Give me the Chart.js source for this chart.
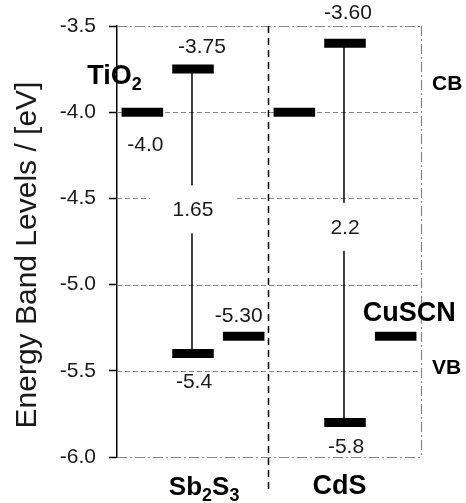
<!DOCTYPE html>
<html>
<head>
<meta charset="utf-8">
<script src="https://cdn.jsdelivr.net/npm/chart.js@4.4.0/dist/chart.umd.min.js"></script>
<style>
  html, body { margin: 0; padding: 0; background: #fff; }
</style>
</head>
<body>
<canvas id="bandas" width="466" height="503"></canvas>
<script>
// valores (eV)
var panels = ['Sb2S3', 'CdS']
var tio2CB = [-4.0, -4.0]
var absorberCB = [-3.75, -3.60]
var absorberVB = [-5.4, -5.8]
var cuscnVB = [-5.30, -5.30]
var gapText = ['1.65', '2.2']
var cbText = ['-3.75', '-3.60']
var vbText = ['-5.4', '-5.8']
var tio2Text = ['-4.0', '']
var cuscnText = ['-5.30', '']
var yTicks = [-6.0, -5.5, -5.0, -4.5, -4.0, -3.5]

var FONT = "'Liberation Sans', Arial, sans-serif"
var HALF = 0.41 // meia largura de cada barra (unidades do eixo x)

function level(x, y) {
  return {
    data: [{ x: x - HALF, y: y }, { x: x + HALF, y: y }],
    borderColor: '#000',
    borderWidth: 9,
    borderCapStyle: 'butt',
    pointRadius: 0,
  }
}

function connector(x, y1, y2) {
  return {
    data: [{ x: x, y: y1 }, { x: x, y: y2 }],
    borderColor: '#000',
    borderWidth: 1.5,
    pointRadius: 0,
  }
}

var datasets = []
panels.forEach(function (p, i) {
  var off = 3 * i
  datasets.push(connector(off + 1.48, absorberCB[i], absorberVB[i]))
  datasets.push(level(off + 0.5, tio2CB[i]))
  datasets.push(level(off + 1.5, absorberCB[i]))
  datasets.push(level(off + 1.5, absorberVB[i]))
  datasets.push(level(off + 2.5, cuscnVB[i]))
})

// texto com indices (Sb2S3 -> Sb₂S₃)
function richText(ctx, text, x, y, size, align) {
  var parts = text.split(/(\d+)/).filter(function (s) { return s.length })
  var sub = Math.round(size * 0.68)
  var total = 0
  parts.forEach(function (s) {
    ctx.font = 'bold ' + (/\d/.test(s) ? sub : size) + 'px ' + FONT
    total += ctx.measureText(s).width
  })
  var cx = align === 'center' ? x - total / 2 : x
  ctx.textAlign = 'left'
  ctx.textBaseline = 'alphabetic'
  parts.forEach(function (s) {
    var isSub = /\d/.test(s)
    ctx.font = 'bold ' + (isSub ? sub : size) + 'px ' + FONT
    ctx.fillText(s, cx, isSub ? y + size * 0.22 : y)
    cx += ctx.measureText(s).width
  })
}

var grade = {
  id: 'grade',
  beforeDatasetsDraw: function (chart) {
    var ctx = chart.ctx, a = chart.chartArea
    var xs = chart.scales.x, ys = chart.scales.y
    ctx.save()
    ctx.strokeStyle = '#858585'
    ctx.lineWidth = 1.2
    yTicks.forEach(function (v, i) {
      var py = Math.round(ys.getPixelForValue(v)) + 0.5
      var edge = i === 0 || i === yTicks.length - 1
      ctx.setLineDash(edge ? [10, 3, 2, 3] : [5, 3])
      ctx.beginPath()
      ctx.moveTo(a.left, py)
      ctx.lineTo(a.right, py)
      ctx.stroke()
    })
    ctx.setLineDash([10, 3, 2, 3])
    ctx.beginPath()
    ctx.moveTo(a.right + 0.5, a.top)
    ctx.lineTo(a.right + 0.5, a.bottom)
    ctx.stroke()
    // divisoria entre os dois paineis
    var dx = Math.round(xs.getPixelForValue(2.98)) + 0.5
    ctx.strokeStyle = '#000'
    ctx.lineWidth = 1.5
    ctx.setLineDash([7, 5])
    ctx.beginPath()
    ctx.moveTo(dx, a.top)
    ctx.lineTo(dx, 491)
    ctx.stroke()
    ctx.restore()
  },
  afterDatasetsDraw: function (chart) {
    var ctx = chart.ctx, a = chart.chartArea
    var xs = chart.scales.x, ys = chart.scales.y
    ctx.save()
    ctx.fillStyle = '#1a1a1a'
    ctx.font = '21px ' + FONT
    ctx.textAlign = 'center'
    ctx.textBaseline = 'middle'

    var cbDy = [-22, -30], vbDy = [29, 25], gapDy = [-2, -6]
    panels.forEach(function (p, i) {
      var off = 3 * i
      var cx = xs.getPixelForValue(off + 1.5)
      // valor do gap, com fundo branco por cima das linhas
      var mid = (absorberCB[i] + absorberVB[i]) / 2
      var gy = ys.getPixelForValue(mid) + gapDy[i]
      ctx.fillStyle = '#fff'
      ctx.fillRect(cx - 43, gy - 24, 86, 48)
      ctx.fillStyle = '#1a1a1a'
      ctx.fillText(gapText[i], cx, gy + 1)
      ctx.fillText(cbText[i], cx + (i ? 3 : 9), ys.getPixelForValue(absorberCB[i]) + cbDy[i])
      ctx.fillText(vbText[i], cx + 1, ys.getPixelForValue(absorberVB[i]) + vbDy[i])
      if (tio2Text[i]) {
        ctx.fillText(tio2Text[i], xs.getPixelForValue(off + 0.5) + 3, ys.getPixelForValue(tio2CB[i]) + 33)
      }
      if (cuscnText[i]) {
        ctx.fillText(cuscnText[i], xs.getPixelForValue(off + 2.5) - 5, ys.getPixelForValue(cuscnVB[i]) - 20)
      }
    })

    ctx.fillStyle = '#000'
    richText(ctx, 'TiO2', xs.getPixelForValue(0.5) - 55, ys.getPixelForValue(tio2CB[0]) - 28, 27, 'left')
    richText(ctx, 'CuSCN', xs.getPixelForValue(5.5) - 33, ys.getPixelForValue(cuscnVB[1]) - 15, 27, 'left')
    richText(ctx, 'CB', a.right + 11, ys.getPixelForValue(-3.83) + 7, 21, 'left')
    richText(ctx, 'VB', a.right + 11, ys.getPixelForValue(-5.48) + 7, 21, 'left')
    richText(ctx, panels[0], xs.getPixelForValue(1.72), 495, 26, 'center')
    richText(ctx, panels[1], xs.getPixelForValue(4.39), 494, 27, 'center')

    // titulo do eixo y
    ctx.translate(28, 255)
    ctx.rotate(-Math.PI / 2)
    ctx.font = '30px ' + FONT
    ctx.fillStyle = '#1a1a1a'
    ctx.textAlign = 'center'
    ctx.textBaseline = 'middle'
    ctx.fillText('Energy Band Levels / [eV]', 0, 0)
    ctx.restore()
  },
}

var ctx = document.getElementById('bandas').getContext('2d')

var bandas = new Chart(ctx, {
  type: 'line',
  data: { datasets: datasets },
  options: {
    responsive: false,
    animation: false,
    layout: { padding: { left: 0, top: 26, right: 45, bottom: 46 } },
    plugins: {
      legend: { display: false },
      tooltip: { enabled: false },
    },
    elements: { line: { tension: 0 } },
    datasets: { line: { clip: false } },
    scales: {
      x: { type: 'linear', min: 0, max: 6, display: false },
      y: {
        type: 'linear',
        min: -6,
        max: -3.5,
        afterBuildTicks: function (scale) {
          scale.ticks = yTicks.map(function (v) { return { value: v } })
        },
        afterFit: function (scale) {
          scale.width = 117
        },
        ticks: {
          callback: function (v) { return v.toFixed(1) },
          font: { size: 21, family: FONT },
          color: '#1a1a1a',
          padding: 13,
        },
        grid: {
          drawOnChartArea: false,
          drawTicks: true,
          tickLength: 8,
          tickColor: '#000',
          tickWidth: 1.5,
        },
        border: { display: true, color: '#000', width: 1.5 },
      },
    },
  },
  plugins: [grade],
})
</script>
</body>
</html>
